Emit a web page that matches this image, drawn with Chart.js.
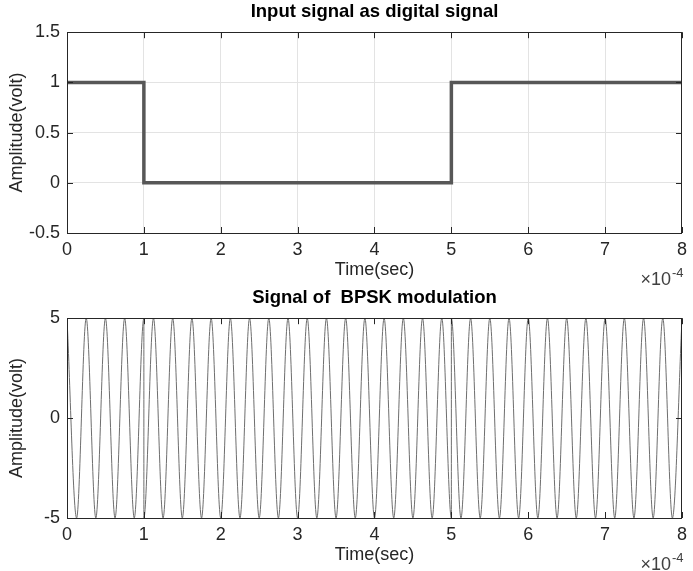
<!DOCTYPE html>
<html>
<head>
<meta charset="utf-8">
<script src="https://cdn.jsdelivr.net/npm/chart.js@4.4.0/dist/chart.umd.min.js"></script>
<style>
body { margin: 0; background: #fff; }
canvas { position: absolute; left: 0; }
</style>
</head>
<body>
<canvas id="grafica1" width="693" height="286" style="top:0px"></canvas>
<canvas id="grafica2" width="693" height="285" style="top:286px"></canvas>
<script>
// time in units of 1e-4 s (axis shows x10^-4)
var digitalTime = [0, 1, 1, 5, 5, 8];
var digitalVolt = [1, 1, 0, 0, 1, 1];

// BPSK carrier: peaks / troughs, phase flips at 1 and 5
var bpskTime = [
	0, 0.125, 0.25, 0.375, 0.5, 0.625, 0.75, 0.875, 1,
	1, 1.125, 1.25, 1.375, 1.5, 1.625, 1.75, 1.875, 2,
	2.125, 2.25, 2.375, 2.5, 2.625, 2.75, 2.875, 3,
	3.125, 3.25, 3.375, 3.5, 3.625, 3.75, 3.875, 4,
	4.125, 4.25, 4.375, 4.5, 4.625, 4.75, 4.875, 5,
	5, 5.125, 5.25, 5.375, 5.5, 5.625, 5.75, 5.875, 6,
	6.125, 6.25, 6.375, 6.5, 6.625, 6.75, 6.875, 7,
	7.125, 7.25, 7.375, 7.5, 7.625, 7.75, 7.875, 8
];
var bpskVolt = [
	5, -5, 5, -5, 5, -5, 5, -5, 5,
	-5, 5, -5, 5, -5, 5, -5, 5, -5,
	5, -5, 5, -5, 5, -5, 5, -5,
	5, -5, 5, -5, 5, -5, 5, -5,
	5, -5, 5, -5, 5, -5, 5, -5,
	5, -5, 5, -5, 5, -5, 5, -5, 5,
	-5, 5, -5, 5, -5, 5, -5, 5,
	-5, 5, -5, 5, -5, 5, -5, 5
];

var fam = '"Liberation Sans", Arial, sans-serif';

function toXY(xs, ys) {
	var out = [];
	for (var i = 0; i < xs.length; i++) out.push({x: xs[i], y: ys[i]});
	return out;
}

// matlab-like box, inward ticks and the x10^-4 exponent
var frame = {
	id: 'frame',
	afterDatasetsDraw: function(chart) {
		var a = chart.chartArea, c = chart.ctx;
		var sx = chart.scales.x, sy = chart.scales.y;
		c.save();
		c.strokeStyle = '#262626';
		c.lineWidth = 1;
		c.beginPath();
		sx.ticks.forEach(function(t) {
			var px = Math.round(sx.getPixelForValue(t.value)) + 0.5;
			c.moveTo(px, a.bottom); c.lineTo(px, a.bottom - 6);
			c.moveTo(px, a.top); c.lineTo(px, a.top + 6);
		});
		sy.ticks.forEach(function(t) {
			var py = Math.round(sy.getPixelForValue(t.value)) + 0.5;
			c.moveTo(a.left, py); c.lineTo(a.left + 6, py);
			c.moveTo(a.right, py); c.lineTo(a.right - 6, py);
		});
		c.stroke();
		c.strokeRect(Math.round(a.left) + 0.5, Math.round(a.top) + 0.5, Math.round(a.width) - 1, Math.round(a.height));
		c.fillStyle = '#404040';
		c.font = '18px ' + fam;
		c.textAlign = 'right';
		c.textBaseline = 'alphabetic';
		c.fillText('\u00d710', a.right - 11, a.bottom + 52);
		c.font = '13px ' + fam;
		c.textAlign = 'left';
		c.fillText('-4', a.right - 10, a.bottom + 44);
		c.restore();
	}
};

function fmt(v) {
	return String(Math.round(v * 10) / 10);
}

function makeOptions(title, ymin, ymax, ystep, grid) {
	return {
		responsive: false,
		animation: false,
		layout: { padding: { left: 0, right: 7, top: 0, bottom: 0 } },
		plugins: {
			legend: { display: false },
			tooltip: { enabled: false },
			title: {
				display: true,
				text: title,
				fullSize: false,
				color: '#000',
				font: { family: fam, size: 18.5, weight: 'bold' },
				padding: { top: 1, bottom: 9 }
			}
		},
		scales: {
			x: {
				type: 'linear',
				min: 0, max: 8,
				afterFit: function(s) { s.height = 53; },
				ticks: { stepSize: 1, padding: 6, color: '#262626', font: { family: fam, size: 18 }, callback: fmt },
				grid: { display: grid, color: '#e3e3e3', drawTicks: false },
				border: { display: false },
				title: { display: true, text: 'Time(sec)', color: '#262626', font: { family: fam, size: 18 }, padding: { top: 0, bottom: 5 } }
			},
			y: {
				min: ymin, max: ymax,
				afterFit: function(s) { s.width = 67; },
				ticks: { stepSize: ystep, padding: 7, color: '#262626', font: { family: fam, size: 18 }, callback: fmt },
				grid: { display: grid, color: '#e3e3e3', drawTicks: false },
				border: { display: false },
				title: { display: true, text: 'Amplitude(volt)', color: '#262626', font: { family: fam, size: 18 }, padding: { top: 6, bottom: 0 } }
			}
		}
	};
}

var chart1 = new Chart(document.getElementById('grafica1'), {
	type: 'line',
	data: {
		datasets: [{
			data: toXY(digitalTime, digitalVolt),
			borderColor: '#575757',
			borderWidth: 3.5,
			pointRadius: 0,
			fill: false,
			tension: 0
		}]
	},
	options: makeOptions('Input signal as digital signal', -0.5, 1.5, 0.5, true),
	plugins: [frame]
});

var chart2 = new Chart(document.getElementById('grafica2'), {
	type: 'line',
	data: {
		datasets: [{
			data: toXY(bpskTime, bpskVolt),
			borderColor: '#6e6e6e',
			borderWidth: 1,
			pointRadius: 0,
			fill: false,
			cubicInterpolationMode: 'monotone'
		}]
	},
	options: makeOptions('Signal of  BPSK modulation', -5, 5, 5, false),
	plugins: [frame]
});
</script>
</body>
</html>
